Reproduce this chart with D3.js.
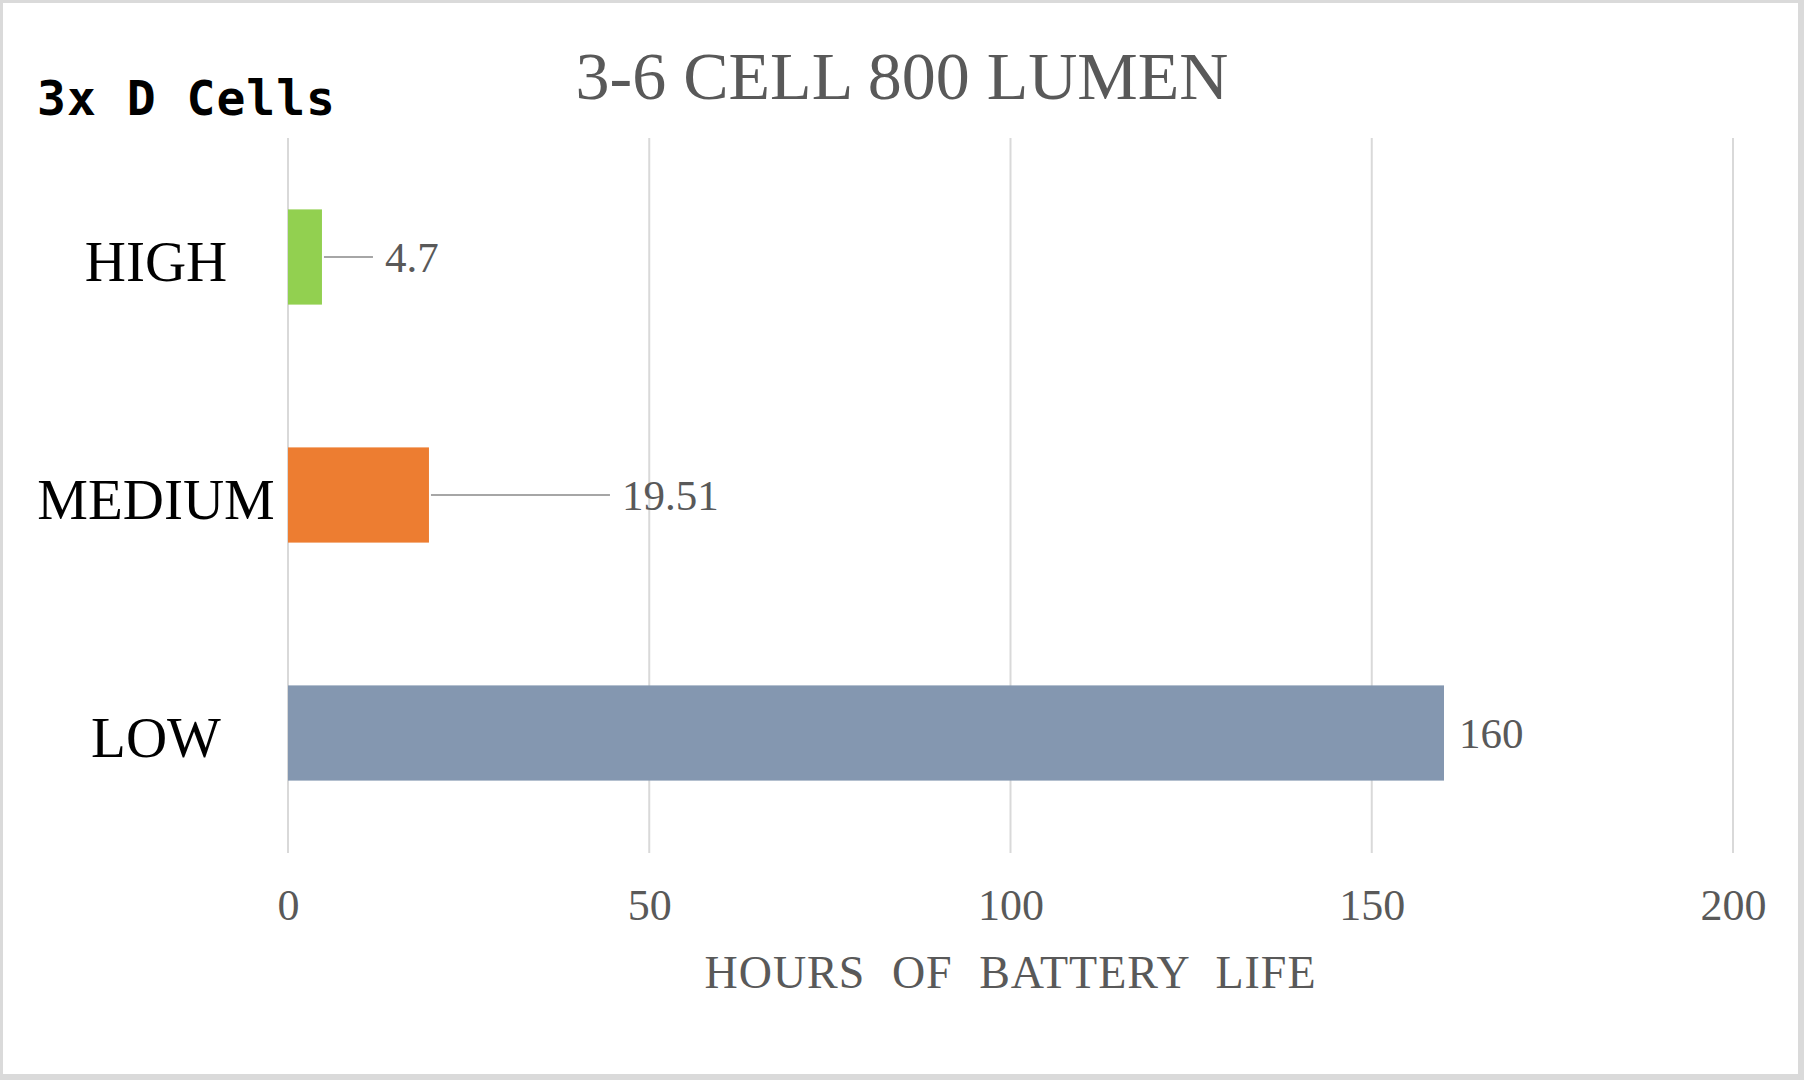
<!DOCTYPE html>
<html>
<head>
<meta charset="utf-8">
<script src="https://cdn.jsdelivr.net/npm/d3@7"></script>
<style>
    html, body { margin: 0; padding: 0; background: #fff; }
    svg { display: block; }
</style>
</head>
<body>
<svg id="chart"></svg>
<script>
var modes = ["HIGH", "MEDIUM", "LOW"];
var hours = [4.7, 19.51, 160];
var barColors = ["#92D050", "#ED7D31", "#8497B0"];
var tickValues = [0, 50, 100, 150, 200];

var chartTitle = "3-6 CELL 800 LUMEN";
var cornerNote = "3x D Cells";
var axisTitle = "HOURS OF BATTERY LIFE";

function drawChart() {
    var width = 1804,
        height = 1080;
    var svg = d3.select("#chart")
        .attr("width", width)
        .attr("height", height);

    // grey frame round the whole picture
    svg.append("rect")
        .attr("width", width)
        .attr("height", height)
        .attr("fill", "#DADADA");
    svg.append("rect")
        .attr("x", 3)
        .attr("y", 3)
        .attr("width", width - 9)
        .attr("height", height - 9)
        .attr("fill", "#fff");

    var x = d3.scaleLinear()
        .domain([0, 200])
        .range([288, 1733]);
    var y = d3.scaleBand()
        .domain(modes)
        .range([138, 852])
        .paddingInner(0.6)
        .paddingOuter(0.3);

    // gridlines
    svg.append("g")
        .selectAll("line")
        .data(tickValues)
        .join("line")
        .attr("x1", function (d) { return x(d); })
        .attr("x2", function (d) { return x(d); })
        .attr("y1", 138)
        .attr("y2", 853)
        .attr("stroke", "#D9D9D9")
        .attr("stroke-width", 2);

    // tick labels through a d3 axis, line parts hidden
    var axis = svg.append("g")
        .attr("transform", "translate(0,853)")
        .call(d3.axisBottom(x).tickValues(tickValues).tickSize(0).tickPadding(0));
    axis.select(".domain").remove();
    axis.selectAll("text")
        .attr("y", 67)
        .attr("dy", null)
        .attr("font-family", "'Liberation Serif', 'Times New Roman', serif")
        .attr("font-size", 44)
        .attr("fill", "#595959");

    var rows = modes.map(function (m, i) {
        return { mode: m, value: hours[i], color: barColors[i] };
    });

    svg.append("g")
        .selectAll("rect")
        .data(rows)
        .join("rect")
        .attr("x", x(0))
        .attr("y", function (d) { return y(d.mode); })
        .attr("width", function (d) { return x(d.value) - x(0); })
        .attr("height", y.bandwidth())
        .attr("fill", function (d) { return d.color; });

    // data labels were dragged out in the original, so each has its own gap
    var labelGap = { HIGH: 63, MEDIUM: 193, LOW: 15 };

    svg.append("g")
        .selectAll("line")
        .data(rows.filter(function (d) { return labelGap[d.mode] > 30; }))
        .join("line")
        .attr("x1", function (d) { return x(d.value) + 2; })
        .attr("x2", function (d) { return x(d.value) + labelGap[d.mode] - 12; })
        .attr("y1", function (d) { return y(d.mode) + y.bandwidth() / 2; })
        .attr("y2", function (d) { return y(d.mode) + y.bandwidth() / 2; })
        .attr("stroke", "#A6A6A6")
        .attr("stroke-width", 2);

    svg.append("g")
        .selectAll("text")
        .data(rows)
        .join("text")
        .attr("x", function (d) { return x(d.value) + labelGap[d.mode]; })
        .attr("y", function (d) { return y(d.mode) + y.bandwidth() / 2 + 15; })
        .attr("font-family", "'Liberation Serif', 'Times New Roman', serif")
        .attr("font-size", 43)
        .attr("fill", "#595959")
        .text(function (d) { return d.value; });

    // category labels
    svg.append("g")
        .selectAll("text")
        .data(rows)
        .join("text")
        .attr("x", 156)
        .attr("y", function (d) { return y(d.mode) + y.bandwidth() / 2 + 24; })
        .attr("text-anchor", "middle")
        .attr("font-family", "'Liberation Serif', 'Times New Roman', serif")
        .attr("font-size", 57)
        .attr("fill", "#000")
        .text(function (d) { return d.mode; });

    svg.append("text")
        .attr("x", 902)
        .attr("y", 99)
        .attr("text-anchor", "middle")
        .attr("font-family", "'Liberation Serif', 'Times New Roman', serif")
        .attr("font-size", 68)
        .attr("fill", "#595959")
        .text(chartTitle);

    svg.append("text")
        .attr("x", 37)
        .attr("y", 115)
        .attr("font-family", "'DejaVu Sans Mono', 'Liberation Mono', monospace")
        .attr("font-weight", "bold")
        .attr("font-size", 48)
        .attr("letter-spacing", 1)
        .attr("fill", "#000")
        .text(cornerNote);

    svg.append("text")
        .attr("x", (x(0) + x(200)) / 2)
        .attr("y", 988)
        .attr("text-anchor", "middle")
        .attr("font-family", "'Liberation Serif', 'Times New Roman', serif")
        .attr("font-size", 46)
        .attr("letter-spacing", 1)
        .attr("word-spacing", 14)
        .attr("fill", "#595959")
        .text(axisTitle);
}

drawChart();
</script>
</body>
</html>
